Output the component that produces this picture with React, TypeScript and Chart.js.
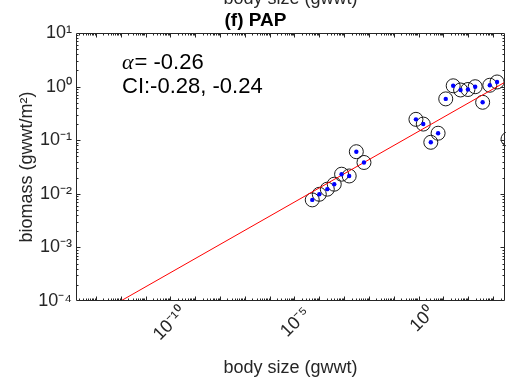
import React, { useEffect, useRef } from "react";
import { Chart, registerables } from "chart.js";
Chart.register(...registerables);

// body size (gwwt) and biomass (gwwt/m^2)
const sizeSmall = [5.2e-5, 1.0e-4, 2.1e-4, 4.0e-4, 7.9e-4, 1.6e-3, 3.1e-3, 6.3e-3];
const biomassSmall = [7.7e-3, 9.8e-3, 1.22e-2, 1.51e-2, 2.32e-2, 2.15e-2, 6.1e-2, 3.84e-2];
const sizeLarge = [0.78, 1.54, 6.1, 3.1, 12.4, 24.7, 49, 97, 190, 380, 738, 1445, 4000];
const biomassLarge = [0.245, 0.2, 0.135, 0.0914, 0.59, 1.035, 0.865, 0.883, 0.995, 0.51, 1.06, 1.22, 0.105];
const fitX = [1e-12, 3020];
const fitY = [1e-4, 1.21];

const xMinExp = -13.8;
const xMaxExp = 3.48;
const xDecades = [-13, -12, -11, -10, -9, -8, -7, -6, -5, -4, -3, -2, -1, 0, 1, 2, 3];
const xLabelled = [-10, -5, 0];
const yDecades = [-4, -3, -2, -1, 0, 1];

const titleText = "(f) PAP";
const xTitle = "body size (gwwt)";
const yTitle = "biomass (gwwt/m\u00B2)";
const alphaText = "= -0.26";
const ciText = "CI:-0.28, -0.24";
const prevXTitle = "body size (gwwt)";

const AX = "#262626";
const FONT = "'Liberation Sans', Arial, Helvetica, sans-serif";

const supMap: Record<string, string> = {
  "-": "\u207B", "0": "\u2070", "1": "\u00B9", "2": "\u00B2", "3": "\u00B3",
  "4": "\u2074", "5": "\u2075", "6": "\u2076", "7": "\u2077", "8": "\u2078", "9": "\u2079",
};
const sup = (n: number) => String(n).split("").map((c) => supMap[c] || c).join("");

const framePlugin = {
  id: "frame",
  afterDatasetsDraw(chart: any) {
    const { ctx, chartArea: a, scales } = chart;
    const x = scales.x, y = scales.y;
    ctx.save();
    ctx.strokeStyle = AX;
    ctx.lineWidth = 1;
    const L = Math.round(a.left) + 0.5, R = Math.round(a.right) - 0.5;
    const T = Math.round(a.top) + 0.5, B = Math.round(a.bottom) - 0.5;
    ctx.beginPath();
    ctx.rect(L, T, R - L, B - T);
    ctx.stroke();
    ctx.beginPath();
    const minorFracs = [2, 3, 4, 5, 6, 7, 8, 9];
    for (let e = Math.floor(xMinExp); e <= Math.ceil(xMaxExp); e++) {
      const px = Math.round(x.getPixelForValue(Math.pow(10, e))) + 0.5;
      if (px > L && px < R) {
        ctx.moveTo(px, B); ctx.lineTo(px, B - 4);
        ctx.moveTo(px, T); ctx.lineTo(px, T + 4);
      }
      for (const m of minorFracs) {
        const mx = Math.round(x.getPixelForValue(m * Math.pow(10, e))) + 0.5;
        if (mx > L && mx < R) {
          ctx.moveTo(mx, B); ctx.lineTo(mx, B - 2);
          ctx.moveTo(mx, T); ctx.lineTo(mx, T + 2);
        }
      }
    }
    for (let e = -4; e <= 1; e++) {
      const py = Math.round(y.getPixelForValue(Math.pow(10, e))) + 0.5;
      if (py > T && py < B) {
        ctx.moveTo(L, py); ctx.lineTo(L + 4, py);
        ctx.moveTo(R, py); ctx.lineTo(R - 4, py);
      }
      for (const m of minorFracs) {
        const my = Math.round(y.getPixelForValue(m * Math.pow(10, e))) + 0.5;
        if (my > T && my < B) {
          ctx.moveTo(L, my); ctx.lineTo(L + 2, my);
          ctx.moveTo(R, my); ctx.lineTo(R - 2, my);
        }
      }
    }
    ctx.stroke();
    ctx.restore();
  },
  afterDraw(chart: any) {
    const { ctx, chartArea: a } = chart;
    ctx.save();
    ctx.fillStyle = "#000";
    ctx.textBaseline = "middle";
    ctx.textAlign = "left";
    ctx.font = "italic 22px 'Liberation Serif', 'DejaVu Serif', serif";
    ctx.fillText("\u03B1", a.left + 46, a.top + 30);
    const aw = ctx.measureText("\u03B1").width;
    ctx.font = `22px ${FONT}`;
    ctx.fillText(alphaText, a.left + 46 + aw + 1, a.top + 30);
    ctx.fillText(ciText, a.left + 46, a.top + 54);
    // x-label of the subplot above, cut by the top edge
    ctx.fillStyle = AX;
    ctx.font = `18px ${FONT}`;
    ctx.textAlign = "center";
    ctx.textBaseline = "alphabetic";
    ctx.fillText(prevXTitle, (a.left + a.right) / 2, 4);
    ctx.restore();
  },
};

export default function App() {
  const ref = useRef<HTMLCanvasElement>(null);
  useEffect(() => {
    if (!ref.current) return;
    const allSize = [...sizeSmall, ...sizeLarge];
    const allBiomass = [...biomassSmall, ...biomassLarge];
    const pts = allSize.map((s, i) => ({ x: s, y: allBiomass[i] }));
    const fit = fitX.map((s, i) => ({ x: s, y: fitY[i] }));
    const chart = new Chart(ref.current, {
      type: "scatter",
      data: {
        datasets: [
          {
            data: pts,
            pointRadius: 2.2,
            pointBackgroundColor: "#0000ff",
            pointBorderColor: "#0000ff",
            pointBorderWidth: 0,
            clip: false as any,
            order: 0,
          },
          {
            data: fit,
            showLine: true,
            borderColor: "#ff0000",
            borderWidth: 1,
            pointRadius: 0,
            order: 1,
          },
          {
            data: pts,
            pointRadius: 7,
            pointBackgroundColor: "rgba(0,0,0,0)",
            pointBorderColor: "#1a1a1a",
            pointBorderWidth: 1,
            clip: false as any,
            order: 2,
          },
        ],
      },
      options: {
        responsive: false,
        animation: false,
        devicePixelRatio: 1,
        layout: { padding: { top: 0, right: 2, bottom: 0, left: 0 } },
        plugins: {
          legend: { display: false },
          tooltip: { enabled: false },
          title: {
            display: true,
            text: titleText,
            color: "#000",
            font: { family: FONT, size: 19, weight: "bold" },
            padding: { top: 9, bottom: 1.2 },
          },
        },
        scales: {
          x: {
            type: "logarithmic",
            min: Math.pow(10, xMinExp),
            max: Math.pow(10, xMaxExp),
            grid: { display: false, drawTicks: false },
            border: { display: false },
            afterBuildTicks: (s: any) => {
              s.ticks = xDecades.map((e) => ({ value: Math.pow(10, e) }));
            },
            afterFit: (s: any) => {
              s.height = 82;
              s.paddingLeft = 0;
              s.paddingRight = 0;
            },
            ticks: {
              autoSkip: false,
              minRotation: 45,
              maxRotation: 45,
              padding: 2,
              labelOffset: 13,
              color: AX,
              font: { family: FONT, size: 18 },
              callback: (v: any) => {
                const e = Math.round(Math.log10(Number(v)));
                return xLabelled.includes(e) ? "10" + sup(e) : "";
              },
            },
            title: {
              display: true,
              text: xTitle,
              color: AX,
              font: { family: FONT, size: 18 },
              padding: { top: 0, bottom: 4 },
            },
          },
          y: {
            type: "logarithmic",
            min: 1e-4,
            max: 10,
            grid: { display: false, drawTicks: false },
            border: { display: false },
            afterBuildTicks: (s: any) => {
              s.ticks = yDecades.map((e) => ({ value: Math.pow(10, e) }));
            },
            afterFit: (s: any) => {
              s.width = 76;
              s.paddingTop = 0;
              s.paddingBottom = 0;
            },
            ticks: {
              autoSkip: false,
              padding: 4,
              color: AX,
              font: { family: FONT, size: 18 },
              callback: (v: any) => "10" + sup(Math.round(Math.log10(Number(v)))),
            },
            title: {
              display: true,
              text: yTitle,
              color: AX,
              font: { family: FONT, size: 18 },
              padding: { top: 16, bottom: 0 },
            },
          },
        },
      },
      plugins: [framePlugin],
    });
    return () => chart.destroy();
  }, []);
  return (
    <div style={{ position: "absolute", left: 0, top: 0, width: 506, height: 383, overflow: "hidden", background: "#fff" }}>
      <canvas ref={ref} width={513} height={383} style={{ display: "block" }} />
    </div>
  );
}
